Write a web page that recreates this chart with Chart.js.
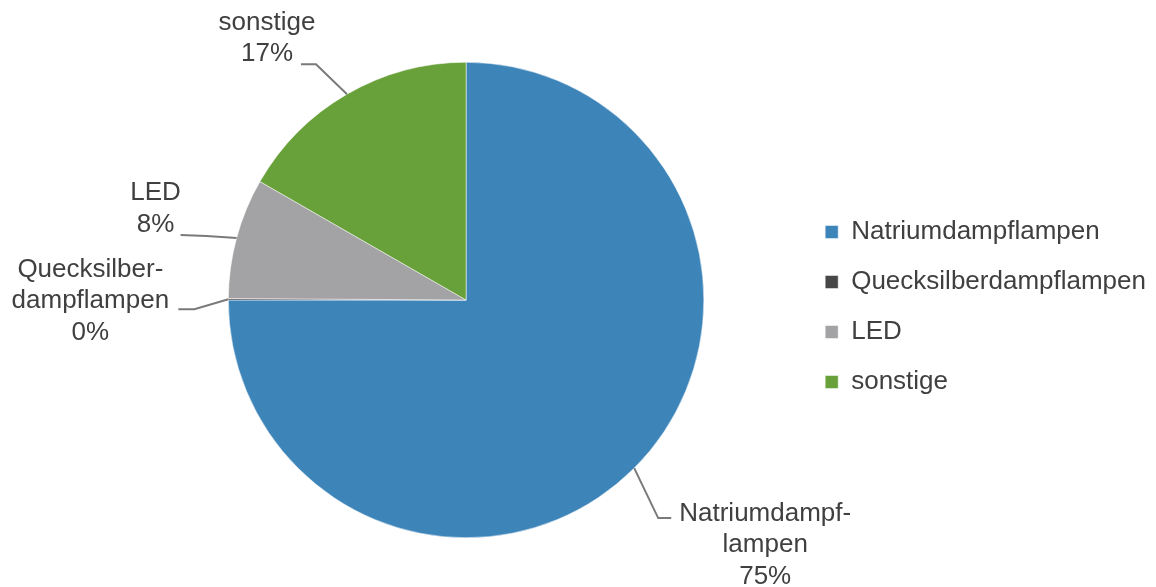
<!DOCTYPE html>
<html>
<head>
<meta charset="utf-8">
<script src="https://cdn.jsdelivr.net/npm/chart.js@4"></script>
<style>
  html, body { margin: 0; padding: 0; background: #ffffff; }
  #wrap { width: 1156px; height: 587px; }
</style>
</head>
<body>
<div id="wrap"><canvas id="chartCanvas" width="1156" height="587"></canvas></div>
<script>
// Daten
const categories = ['Natriumdampflampen', 'Quecksilberdampflampen', 'LED', 'sonstige'];
const labelTexts = [['Natriumdampf-', 'lampen'], ['Quecksilber-', 'dampflampen'], ['LED'], ['sonstige']];
const values = [75, 0.1, 8.2, 16.7];
const colors = ['#3d84b9', '#474747', '#a3a3a5', '#68a03a'];

// Platzierung der Beschriftungen (relativ zum Rand des Segments)
const labelPlacement = [
    { elbow: [24, 50], end: [37, 50], text: [131, 77] },
    { elbow: [-34, 10], end: [-50, 10], text: [-138, 2] },
    { elbow: [-30, -2], end: [-56, -3], text: [-81, -29] },
    { elbow: [-31, -30], end: [-46, -30], text: [-80, -56] }
];

const textColor = '#404040';
const fontFamily = '"Liberation Sans", Arial, sans-serif';

// Plugin: Beschriftungen mit Führungslinien
const leaderLabels = {
    id: 'leaderLabels',
    afterDatasetsDraw(chart) {
        const ctx = chart.ctx;
        const meta = chart.getDatasetMeta(0);
        const total = values.reduce((a, b) => a + b, 0);
        meta.data.forEach(function(arc, i) {
            const p = labelPlacement[i];
            const mid = (arc.startAngle + arc.endAngle) / 2;
            const ax = arc.x + Math.cos(mid) * arc.outerRadius;
            const ay = arc.y + Math.sin(mid) * arc.outerRadius;

            ctx.save();
            ctx.strokeStyle = '#7a7a7a';
            ctx.lineWidth = 2;
            ctx.beginPath();
            ctx.moveTo(ax, ay);
            ctx.lineTo(ax + p.elbow[0], ay + p.elbow[1]);
            ctx.lineTo(ax + p.end[0], ay + p.end[1]);
            ctx.stroke();

            const lines = labelTexts[i].concat([Math.round(values[i] / total * 100) + '%']);
            const lineH = 31.5;
            const cx = ax + p.text[0];
            const cy = ay + p.text[1];
            ctx.fillStyle = textColor;
            ctx.font = '26px ' + fontFamily;
            ctx.textAlign = 'center';
            ctx.textBaseline = 'middle';
            lines.forEach(function(line, k) {
                ctx.fillText(line, cx, cy + (k - (lines.length - 1) / 2) * lineH);
            });
            ctx.restore();
        });
    }
};

const ctx = document.getElementById('chartCanvas').getContext('2d');
new Chart(ctx, {
    type: 'pie',
    data: {
        labels: categories,
        datasets: [{
            data: values,
            backgroundColor: colors,
            borderColor: '#ffffff',
            borderWidth: 0.5
        }]
    },
    options: {
        responsive: false,
        animation: false,
        layout: {
            padding: { left: 131, right: 0, top: 62, bottom: 49 }
        },
        plugins: {
            legend: {
                position: 'right',
                // leerer Titel nur um die Legende etwas nach unten zu schieben
                title: { display: true, text: '', font: { size: 10 }, padding: 1 },
                labels: {
                    color: textColor,
                    boxWidth: 13,
                    boxHeight: 13,
                    padding: 24,
                    font: { size: 26, family: fontFamily }
                }
            },
            tooltip: { enabled: false }
        }
    },
    plugins: [leaderLabels]
});
</script>
</body>
</html>
